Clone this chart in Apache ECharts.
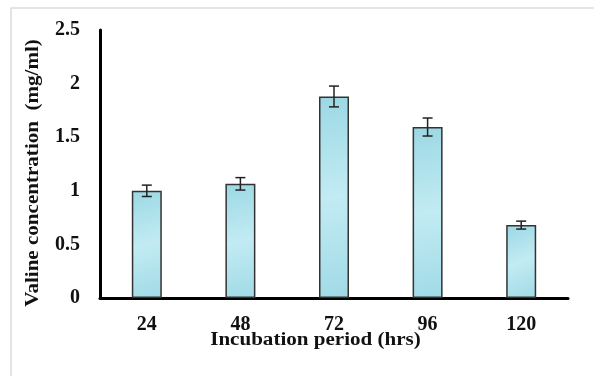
<!DOCTYPE html>
<html>
<head>
<meta charset="utf-8">
<script src="https://cdn.jsdelivr.net/npm/echarts@6/dist/echarts.min.js"></script>
<style>
  html, body { margin: 0; padding: 0; background: #fff; }
  #chart { width: 594px; height: 376px; }
</style>
</head>
<body>
<div id="chart"></div>
<script>
const categories = ['24', '48', '72', '96', '120'];
const valine = [1.0, 1.065, 1.88, 1.595, 0.68];
const errors = [0.053, 0.058, 0.097, 0.084, 0.037];
const yTicks = [0, 0.5, 1, 1.5, 2, 2.5];

const font = 'Liberation Serif';
const chart = echarts.init(document.getElementById('chart'));

const barFill = new echarts.graphic.LinearGradient(0, 0, 1, 1, [
  { offset: 0, color: '#9bd8e4' },
  { offset: 0.5, color: '#c2ebf3' },
  { offset: 1, color: '#a0dae6' }
]);

chart.setOption({
  animation: false,
  grid: { left: 100, right: 26, top: 30, bottom: 78 },
  graphic: [
    {
      type: 'rect',
      shape: { x: 11, y: 8, width: 620, height: 400 },
      style: { fill: 'none', stroke: '#dcdcdc', lineWidth: 1.5 },
      silent: true
    },
    {
      type: 'text',
      x: 315.5, y: 340, scaleX: 1.17,
      style: {
        text: 'Incubation period (hrs)', font: 'bold 18px "' + font + '"', fill: '#111',
        align: 'center', verticalAlign: 'middle'
      }
    },
    {
      type: 'text',
      x: 33, y: 173, rotation: Math.PI / 2, scaleX: 1.17,
      style: {
        text: 'Valine concentration  (mg/ml)', font: 'bold 18px "' + font + '"', fill: '#111',
        align: 'center', verticalAlign: 'middle'
      }
    }
  ],
  xAxis: {
    type: 'category',
    data: categories,
    axisLine: { lineStyle: { color: '#000', width: 3 } },
    axisTick: { show: false },
    axisLabel: { color: '#111', fontFamily: font, fontWeight: 'bold', fontSize: 20, margin: 17 }
  },
  yAxis: {
    type: 'value',
    min: 0, max: 2.5, interval: 0.5,
    axisLine: { show: true, lineStyle: { color: '#000', width: 3 } },
    axisTick: { show: false },
    splitLine: { show: false },
    axisLabel: {
      color: '#111', fontFamily: font, fontWeight: 'bold', fontSize: 20, margin: 20,
      formatter: v => (yTicks.indexOf(v) >= 0 ? String(v) : '')
    }
  },
  series: [
    {
      type: 'bar',
      data: valine,
      barWidth: 30,
      itemStyle: { color: barFill, borderColor: '#333', borderWidth: 1.5 }
    },
    {
      type: 'custom',
      data: valine.map((v, i) => [i, v - errors[i], v + errors[i]]),
      z: 10,
      renderItem: function (params, api) {
        const lo = api.coord([api.value(0), api.value(1)]);
        const hi = api.coord([api.value(0), api.value(2)]);
        const half = 5;
        const style = { stroke: '#222', lineWidth: 1.5 };
        return {
          type: 'group',
          children: [
            { type: 'line', shape: { x1: hi[0], y1: hi[1], x2: lo[0], y2: lo[1] }, style },
            { type: 'line', shape: { x1: hi[0] - half, y1: hi[1], x2: hi[0] + half, y2: hi[1] }, style },
            { type: 'line', shape: { x1: lo[0] - half, y1: lo[1], x2: lo[0] + half, y2: lo[1] }, style }
          ]
        };
      }
    }
  ]
});
</script>
</body>
</html>
